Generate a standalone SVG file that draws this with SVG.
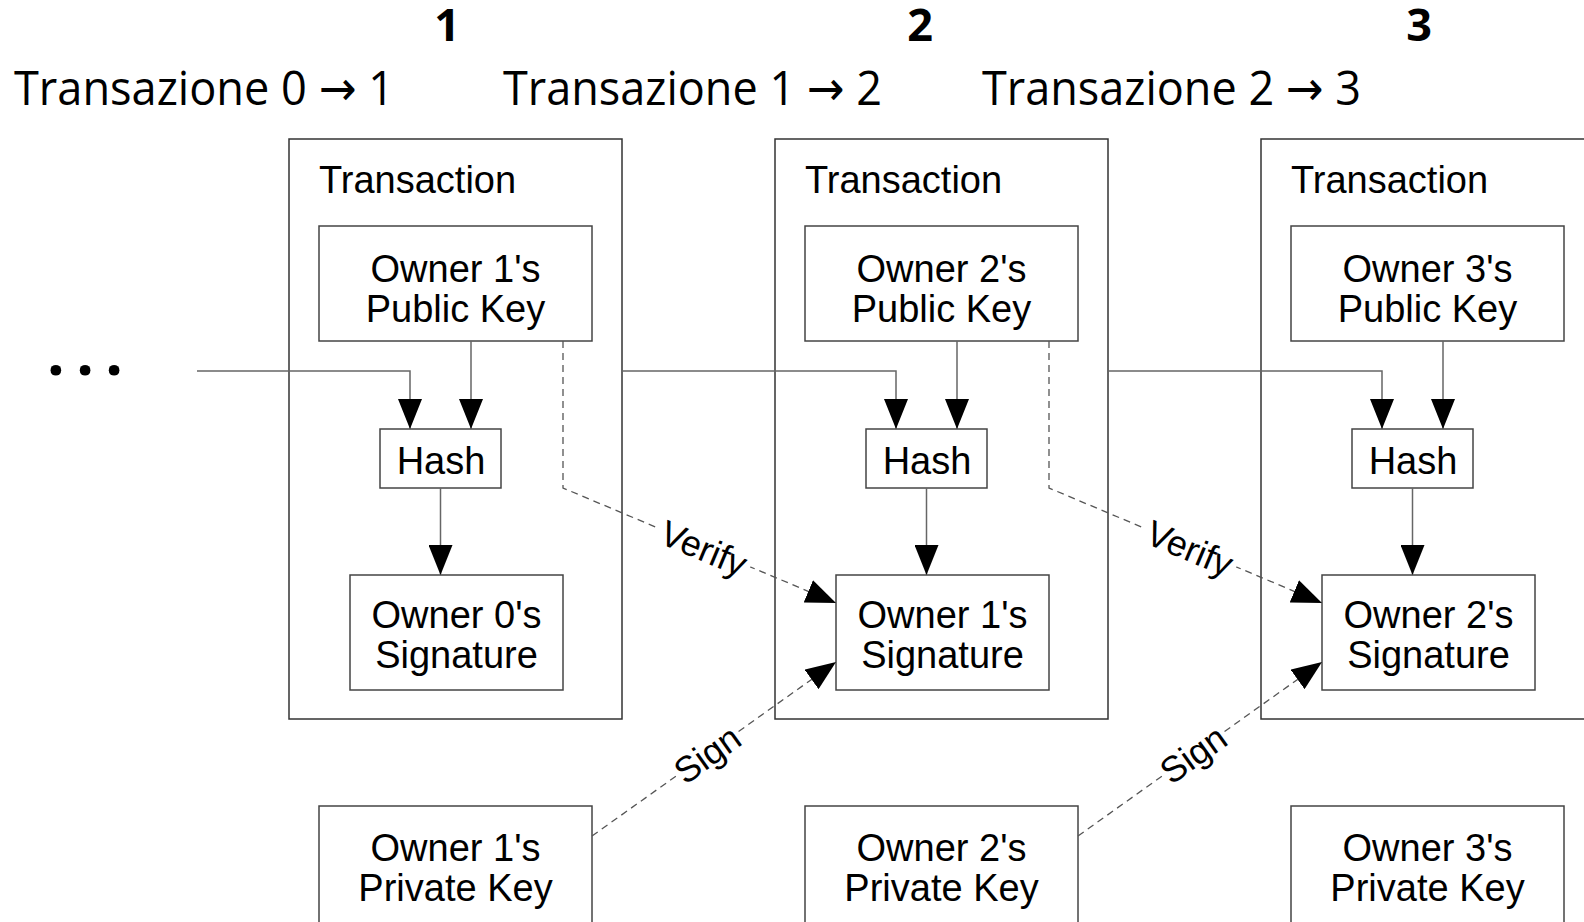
<svg xmlns="http://www.w3.org/2000/svg" width="1584" height="922" viewBox="0 0 1584 922">
  <style>
    .tx { fill: #fff; stroke: #333; stroke-width: 1.5; }
    .box { fill: #fff; stroke: #444; stroke-width: 1.5; }
    .lbl { font-family: "Liberation Sans", Arial, sans-serif; font-size: 38px; fill: #000; text-anchor: middle; }
    .txlbl { font-family: "Liberation Sans", Arial, sans-serif; font-size: 38px; fill: #000; }
    .edge { font-family: "Liberation Sans", Arial, sans-serif; font-size: 36px; fill: #000; text-anchor: middle; }
    .title { font-family: "Open Sans", "DejaVu Sans", sans-serif; font-size: 48px; fill: #000; }
    .num { font-family: "Open Sans", sans-serif; font-size: 45px; font-weight: bold; fill: #000; text-anchor: middle; }
    .conn { fill: none; stroke: #666; stroke-width: 1.5; }
    .dash { fill: none; stroke: #555; stroke-width: 1.3; stroke-dasharray: 7 5; }
  </style>
  <defs>
    <marker id="arrow" viewBox="0 0 30 24" refX="30" refY="12" markerWidth="30" markerHeight="24" markerUnits="userSpaceOnUse" orient="auto">
      <path d="M0,0 L30,12 L0,24 Z" fill="#000"/>
    </marker>
  </defs>

  <rect width="1584" height="922" fill="#fff"/>

  <!-- headings -->
  <g id="headings">
    <text class="num" x="447" y="41">1</text>
    <text class="num" x="920" y="41">2</text>
    <text class="num" x="1419" y="41">3</text>
    <text class="title" x="14" y="105" textLength="380" lengthAdjust="spacingAndGlyphs">Transazione 0 → 1</text>
    <text class="title" x="503" y="105" textLength="379" lengthAdjust="spacingAndGlyphs">Transazione 1 → 2</text>
    <text class="title" x="982" y="105" textLength="379" lengthAdjust="spacingAndGlyphs">Transazione 2 → 3</text>
    <text x="47" y="375" font-family="Open Sans, sans-serif" font-weight="bold" font-size="62" letter-spacing="11.5">...</text>
  </g>

  <!-- transaction 1 -->
  <g id="tx1">
    <rect class="tx" x="289" y="139" width="333" height="580"/>
    <text class="txlbl" x="319" y="193">Transaction</text>
  </g>
  <g id="pub1">
    <rect class="box" x="319" y="226" width="273" height="115"/>
    <text class="lbl" x="455.5" y="282">Owner 1's</text>
    <text class="lbl" x="455.5" y="322">Public Key</text>
  </g>
  <g id="hash1">
    <rect class="box" x="380" y="429" width="121" height="59"/>
    <text class="lbl" x="441" y="474">Hash</text>
  </g>
  <g id="sig0">
    <rect class="box" x="350" y="575" width="213" height="115"/>
    <text class="lbl" x="456.5" y="628">Owner 0's</text>
    <text class="lbl" x="456.5" y="668">Signature</text>
  </g>
  <g id="priv1">
    <rect class="box" x="319" y="806" width="273" height="130"/>
    <text class="lbl" x="455.5" y="861">Owner 1's</text>
    <text class="lbl" x="455.5" y="901">Private Key</text>
  </g>

  <!-- transaction 2 -->
  <g id="tx2">
    <rect class="tx" x="775" y="139" width="333" height="580"/>
    <text class="txlbl" x="805" y="193">Transaction</text>
  </g>
  <g id="pub2">
    <rect class="box" x="805" y="226" width="273" height="115"/>
    <text class="lbl" x="941.5" y="282">Owner 2's</text>
    <text class="lbl" x="941.5" y="322">Public Key</text>
  </g>
  <g id="hash2">
    <rect class="box" x="866" y="429" width="121" height="59"/>
    <text class="lbl" x="927" y="474">Hash</text>
  </g>
  <g id="sig1">
    <rect class="box" x="836" y="575" width="213" height="115"/>
    <text class="lbl" x="942.5" y="628">Owner 1's</text>
    <text class="lbl" x="942.5" y="668">Signature</text>
  </g>
  <g id="priv2">
    <rect class="box" x="805" y="806" width="273" height="130"/>
    <text class="lbl" x="941.5" y="861">Owner 2's</text>
    <text class="lbl" x="941.5" y="901">Private Key</text>
  </g>

  <!-- transaction 3 -->
  <g id="tx3">
    <rect class="tx" x="1261" y="139" width="333" height="580"/>
    <text class="txlbl" x="1291" y="193">Transaction</text>
  </g>
  <g id="pub3">
    <rect class="box" x="1291" y="226" width="273" height="115"/>
    <text class="lbl" x="1427.5" y="282">Owner 3's</text>
    <text class="lbl" x="1427.5" y="322">Public Key</text>
  </g>
  <g id="hash3">
    <rect class="box" x="1352" y="429" width="121" height="59"/>
    <text class="lbl" x="1413" y="474">Hash</text>
  </g>
  <g id="sig2">
    <rect class="box" x="1322" y="575" width="213" height="115"/>
    <text class="lbl" x="1428.5" y="628">Owner 2's</text>
    <text class="lbl" x="1428.5" y="668">Signature</text>
  </g>
  <g id="priv3">
    <rect class="box" x="1291" y="806" width="273" height="130"/>
    <text class="lbl" x="1427.5" y="861">Owner 3's</text>
    <text class="lbl" x="1427.5" y="901">Private Key</text>
  </g>

  <!-- connectors -->
  <g id="connectors">
    <!-- previous transaction into hash -->
    <path class="conn" d="M197,371 H410 V429" marker-end="url(#arrow)"/>
    <path class="conn" d="M622,371 H896 V429" marker-end="url(#arrow)"/>
    <path class="conn" d="M1108,371 H1382 V429" marker-end="url(#arrow)"/>
    <!-- public key into hash -->
    <path class="conn" d="M471,341 V429" marker-end="url(#arrow)"/>
    <path class="conn" d="M957,341 V429" marker-end="url(#arrow)"/>
    <path class="conn" d="M1443,341 V429" marker-end="url(#arrow)"/>
    <!-- hash into signature -->
    <path class="conn" d="M440.5,488 V575" marker-end="url(#arrow)"/>
    <path class="conn" d="M926.5,488 V575" marker-end="url(#arrow)"/>
    <path class="conn" d="M1412.5,488 V575" marker-end="url(#arrow)"/>
    <!-- verify -->
    <path class="dash" d="M563,341 V488 L836,603" marker-end="url(#arrow)"/>
    <path class="dash" d="M1049,341 V488 L1322,603" marker-end="url(#arrow)"/>
    <!-- sign -->
    <path class="dash" d="M592,836 L836,662" marker-end="url(#arrow)"/>
    <path class="dash" d="M1078,836 L1322,662" marker-end="url(#arrow)"/>
    <!-- edge labels -->
    <g transform="translate(704,548) rotate(22.8)">
      <rect x="-50" y="-14" width="100" height="30" fill="#fff"/>
      <text class="edge" y="13">Verify</text>
    </g>
    <g transform="translate(1190,548) rotate(22.8)">
      <rect x="-50" y="-14" width="100" height="30" fill="#fff"/>
      <text class="edge" y="13">Verify</text>
    </g>
    <g transform="translate(707,754) rotate(-35.5)">
      <rect x="-38" y="-14" width="76" height="30" fill="#fff"/>
      <text class="edge" y="13">Sign</text>
    </g>
    <g transform="translate(1193,754) rotate(-35.5)">
      <rect x="-38" y="-14" width="76" height="30" fill="#fff"/>
      <text class="edge" y="13">Sign</text>
    </g>
  </g>
</svg>
